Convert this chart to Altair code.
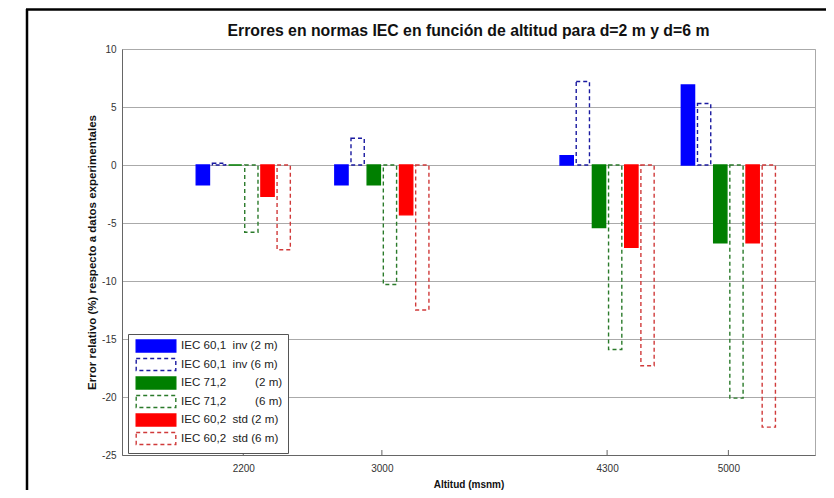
import altair as alt
import pandas as pd

# ---- data ----
altitudes = [2200, 3000, 4300, 5000]
series = [
    "IEC 60,1\u00a0\u00a0inv (2 m)",
    "IEC 60,1\u00a0\u00a0inv (6 m)",
    "IEC 71,2\u00a0\u00a0\u00a0\u00a0\u00a0\u00a0\u00a0\u00a0\u00a0(2 m)",
    "IEC 71,2\u00a0\u00a0\u00a0\u00a0\u00a0\u00a0\u00a0\u00a0\u00a0(6 m)",
    "IEC 60,2\u00a0\u00a0std (2 m)",
    "IEC 60,2\u00a0\u00a0std (6 m)",
]
iec601_inv_2m = [-1.7, -1.7, 0.8, 6.9]
iec601_inv_6m = [0.15, 2.3, 7.2, 5.3]
iec712_2m = [0.0, -1.7, -5.4, -6.7]
iec712_6m = [-5.8, -10.3, -15.9, -20.1]
iec602_std_2m = [-2.7, -4.3, -7.1, -6.7]
iec602_std_6m = [-7.3, -12.5, -17.3, -22.6]
all_values = [iec601_inv_2m, iec601_inv_6m, iec712_2m, iec712_6m, iec602_std_2m, iec602_std_6m]
y_ticks = [-25, -20, -15, -10, -5, 0, 5, 10]

# ---- styles ----
fills = ["#0000ff", "transparent", "#007f00", "transparent", "#ff0000", "transparent"]
strokes = ["#0000ff", "#1a1aa0", "#007f00", "#2a7a2a", "#ff0000", "#d03a3a"]
dashes = [[1, 0], [4, 3], [1, 0], [4, 3], [1, 0], [4, 3]]

# grouped bar geometry (MATLAB-style: group width 0.8 of min spacing)
min_gap = min(b - a for a, b in zip(altitudes[:-1], altitudes[1:]))
slot = 0.8 * min_gap / len(series)
half = 0.41 * slot

rows = []
for i, (name, vals) in enumerate(zip(series, all_values)):
    for a, v in zip(altitudes, vals):
        c = a + (i - (len(series) - 1) / 2) * slot
        rows.append({"series": name, "x0": c - half, "x1": c + half, "value": v, "base": 0})
df = pd.DataFrame(rows)
ticks_df = pd.DataFrame({"alt": altitudes})

x_scale = alt.Scale(domain=[1500, 5500], nice=False, zero=False)

legend = alt.Legend(
    title=None, orient="none", legendX=6, legendY=285,
    symbolType="M-3.3,-1H3.3V1H-3.3Z", symbolSize=144, symbolStrokeWidth=1.4,
    symbolOffset=16, labelOffset=18, rowPadding=0.5, padding=5,
    fillColor="white", strokeColor="#555", labelFontSize=11.6, labelColor="#222",
    labelFont="Liberation Sans", labelLimit=300,
)

bars = alt.Chart(df).mark_bar(strokeWidth=1.4).encode(
    x=alt.X("x0:Q", title="Altitud (msnm)", scale=x_scale,
            axis=alt.Axis(values=altitudes, format="d", grid=False, ticks=False,
                          labelPadding=8, titlePadding=6)),
    x2="x1:Q",
    y=alt.Y("value:Q", title="Error relativo (%) respecto a datos experimentales",
            scale=alt.Scale(domain=[-25, 10], nice=False),
            axis=alt.Axis(values=y_ticks, grid=True, ticks=False, labelPadding=6,
                          labelExpr="'' + datum.value",
                          titlePadding=4, titleFontSize=11.5)),
    y2="base:Q",
    fill=alt.Fill("series:N", scale=alt.Scale(domain=series, range=fills), legend=legend),
    stroke=alt.Stroke("series:N", scale=alt.Scale(domain=series, range=strokes), legend=legend),
    strokeDash=alt.StrokeDash("series:N", scale=alt.Scale(domain=series, range=dashes), legend=legend),
)

# small inward tick marks on the x axis (MATLAB style)
xticks = alt.Chart(ticks_df).mark_rule(color="#666", strokeWidth=1).encode(
    x=alt.X("alt:Q", scale=x_scale), y=alt.value(406), y2=alt.value(401))

frame_df = pd.DataFrame({"k": [0]})
frame_left = alt.Chart(frame_df).mark_rule(color="black", strokeWidth=2.5).encode(
    x=alt.value(-95), y=alt.value(-40), y2=alt.value(450))
frame_top = alt.Chart(frame_df).mark_rule(color="black", strokeWidth=2.5).encode(
    x=alt.value(-96), x2=alt.value(720), y=alt.value(-39.5))

chart = alt.layer(bars, xticks, frame_left, frame_top).properties(
    width=693, height=406,
    autosize=alt.AutoSizeParams(type="none"),
    padding={"left": 114, "top": 41, "right": 11, "bottom": 35},
    title=alt.TitleParams("Errores en normas IEC en función de altitud para d=2 m y d=6 m",
                          fontSize=15.8, fontWeight="bold", anchor="middle", offset=-32,
                          color="#111", font="Liberation Sans"),
).configure(
    font="Liberation Sans",
).configure_view(
    stroke="#aaa", strokeWidth=1,
).configure_axis(
    labelFontSize=10, labelColor="#333", titleFontSize=10, titleFontWeight="bold",
    titleColor="#111", domainColor="#666", gridColor="#aaa", gridWidth=1,
    labelFont="Liberation Sans", titleFont="Liberation Sans",
)

chart.save("out.html", embed_options={"renderer": "svg", "actions": False})
